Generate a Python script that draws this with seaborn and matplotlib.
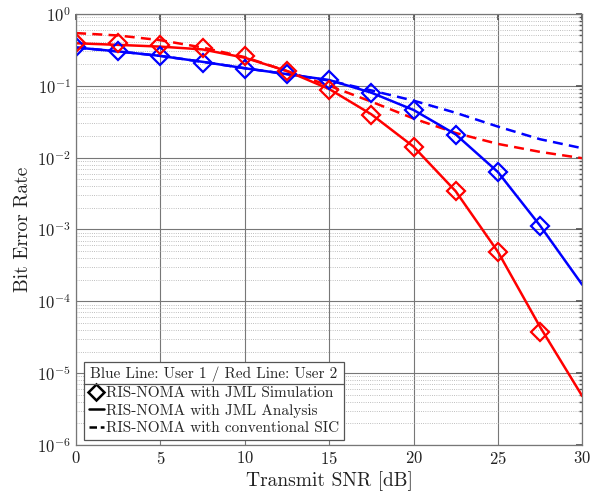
import numpy as np
import pandas as pd
import matplotlib
matplotlib.use('Agg')
import matplotlib.pyplot as plt
import seaborn as sns
from matplotlib.lines import Line2D

# Data
snr = [0, 2.5, 5, 7.5, 10, 12.5, 15, 17.5, 20, 22.5, 25, 27.5, 30]
snr_sim = snr[:-1]

# User 1 (blue)
u1_sim = [0.35, 0.30, 0.26, 0.21, 0.17, 0.146, 0.12, 0.079, 0.046, 0.0207, 0.0063, 0.00112]
u1_ana = [0.34, 0.30, 0.26, 0.215, 0.175, 0.145, 0.12, 0.08, 0.046, 0.021, 0.0063, 0.00113, 1.7e-4]
u1_sic = [0.34, 0.30, 0.26, 0.215, 0.175, 0.145, 0.118, 0.086, 0.062, 0.042, 0.027, 0.018, 0.0135]

# User 2 (red)
u2_sim = [0.39, 0.39, 0.37, 0.33, 0.26, 0.16, 0.087, 0.039, 0.014, 0.0034, 0.00049, 3.7e-5]
u2_ana = [0.39, 0.37, 0.35, 0.32, 0.245, 0.16, 0.09, 0.04, 0.0142, 0.0034, 0.00049, 4.4e-5, 4.8e-6]
u2_sic = [0.54, 0.50, 0.43, 0.34, 0.25, 0.16, 0.10, 0.06, 0.035, 0.022, 0.0155, 0.012, 0.0098]

legend_title = 'Blue Line: User 1 / Red Line: User 2'
legend_labels = ['RIS-NOMA with JML Simulation',
                 'RIS-NOMA with JML Analysis',
                 'RIS-NOMA with conventional SIC']

sns.set_theme(style='white')
plt.rcParams['font.family'] = 'serif'
plt.rcParams['font.serif'] = ['cmr10']
plt.rcParams['mathtext.fontset'] = 'cm'
plt.rcParams['axes.unicode_minus'] = False
plt.rcParams['axes.formatter.use_mathtext'] = True

fig = plt.figure(figsize=(5.99, 4.95), dpi=100)
ax = fig.add_axes([0.127, 0.101, 0.845, 0.871])

blue = '#0000ff'
red = '#ff0000'

# conventional SIC (dashed) first so solid lines sit on top
sns.lineplot(x=snr, y=u1_sic, color=blue, linestyle=(0, (4, 2.5)), lw=1.8, ax=ax)
sns.lineplot(x=snr, y=u2_sic, color=red, linestyle=(0, (4, 2.5)), lw=1.8, ax=ax)
# analysis
sns.lineplot(x=snr, y=u1_ana, color=blue, lw=1.8, ax=ax)
sns.lineplot(x=snr, y=u2_ana, color=red, lw=1.8, ax=ax)
# simulation markers
sns.lineplot(x=snr_sim, y=u1_sim, color=blue, linestyle='', marker='D', ms=9.5,
             mfc='none', mec=blue, mew=1.6, ax=ax)
sns.lineplot(x=snr_sim, y=u2_sim, color=red, linestyle='', marker='D', ms=9.5,
             mfc='none', mec=red, mew=1.6, ax=ax)

ax.set_yscale('log')
ax.set_xlim(0, 30)
ax.set_ylim(1e-6, 1)
ax.set_xticks([0, 5, 10, 15, 20, 25, 30])
ax.set_yticks([1e-6, 1e-5, 1e-4, 1e-3, 1e-2, 1e-1, 1])

ax.grid(True, which='major', color='#777777', lw=0.8)
ax.grid(True, which='minor', axis='y', color='#aaaaaa', lw=0.6, linestyle=':')
ax.set_axisbelow(True)
for s in ax.spines.values():
    s.set_color('#777777')
    s.set_linewidth(0.9)
ax.tick_params(which='both', direction='in', top=True, right=True,
               colors='#555555', labelcolor='#222222', labelsize=12)
ax.tick_params(which='major', length=4)
ax.tick_params(which='minor', length=2)

ax.set_xlabel('Transmit SNR [dB]', fontsize=14, color='#222222', labelpad=3)
ax.set_ylabel('Bit Error Rate', fontsize=14, color='#222222', labelpad=4)

handles = [Line2D([], [], color='black', linestyle='', marker='D', ms=8, mfc='none', mew=1.8),
           Line2D([], [], color='black', lw=1.8),
           Line2D([], [], color='black', lw=1.8, linestyle=(0, (3, 1.5)))]
leg = ax.legend(handles, legend_labels, title=legend_title, loc='lower left',
                bbox_to_anchor=(0.01, 0.005), fontsize=11, title_fontsize=11,
                handlelength=1.0, handletextpad=0.15, borderpad=0.3,
                labelspacing=0.25, borderaxespad=0.2, fancybox=False,
                framealpha=1, edgecolor='#555555')
leg.get_frame().set_linewidth(0.9)

# separator line under the legend title
fig.canvas.draw()
r = fig.canvas.get_renderer()
lb = leg.get_window_extent(r)
tb = leg.get_title().get_window_extent(r)
ysep = tb.y0 - 2
inv = fig.transFigure.inverted()
(x0, y0), (x1, y1) = inv.transform([(lb.x0, ysep), (lb.x1, ysep)])
fig.add_artist(Line2D([x0, x1], [y0, y1], color='#555555', lw=0.9, transform=fig.transFigure))

fig.savefig('out.png', dpi=100)
